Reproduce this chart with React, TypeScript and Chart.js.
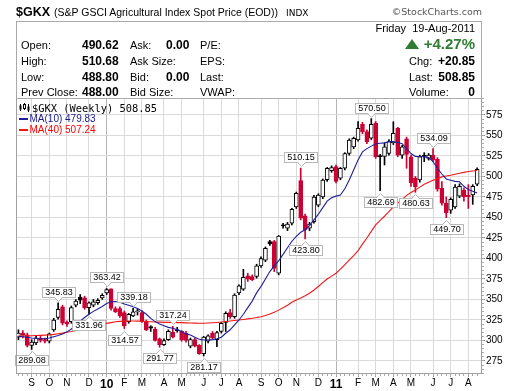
import React, { useEffect, useRef } from 'react';
import { Chart, registerables } from 'chart.js';

Chart.register(...registerables);

// ---------- data ----------
const FIRST_MONDAY = '2009-08-17';
const MONTH_LETTERS = ['J', 'F', 'M', 'A', 'M', 'J', 'J', 'A', 'S', 'O', 'N', 'D'];

const opens = [
  304, 309, 307, 294, 297, 303, 301, 299, 313, 328,
  341, 322, 323, 343, 353, 352, 340, 343, 346, 352,
  358, 363, 339, 339, 334, 323, 330, 335, 334, 323,
  317, 314, 302, 295, 301, 310, 313, 311, 309, 293,
  301, 294, 284, 299, 309, 301, 311, 322, 334, 329,
  358, 362.5, 378.7, 378, 378, 391, 398, 420.5, 420.5, 382,
  441, 437, 443, 463, 495, 452, 437, 445, 465, 475,
  496, 507, 512, 498, 510, 528, 536, 544.5, 563.6, 554.7,
  546.6, 565, 524.5, 524.5, 528, 541, 558.8, 526, 546, 524,
  498, 495.7, 525, 522, 526, 521, 485.6, 467.3, 459, 463,
  476, 483.5, 477, 477.4, 490.62,
];
const highs = [
  313, 312, 309, 301, 306, 305, 303, 309, 327, 345.83,
  343, 324, 342, 350, 356, 354, 347, 350, 351, 357,
  363.42, 363, 341, 341, 336, 333, 339.18, 338, 336, 325,
  318, 316, 303, 302, 313, 317.24, 316, 312, 311, 303,
  303, 295, 305, 307, 311, 311, 322, 335, 338, 357,
  368, 386.8, 382, 380, 393, 402, 414, 422, 422, 428,
  443, 444, 461, 481, 510.15, 454, 444, 477, 479, 497,
  511, 513, 514, 511, 529, 546, 548, 566.8, 566, 557,
  570.5, 567, 527, 541, 545, 566.8, 560, 538, 548, 526,
  500, 526, 529, 528, 534.09, 523, 493.7, 475, 474, 490,
  491, 486, 490, 490, 510.68,
];
const lows = [
  301, 303, 292, 289.08, 295, 298, 297, 297, 311, 326,
  319, 317, 321, 341, 345, 338, 331.96, 341, 344, 350,
  356, 337, 334, 328, 314.57, 321, 329, 331, 322, 312,
  311, 299, 291.77, 294, 300, 303, 310, 299, 298, 291,
  292, 283, 281.17, 297, 302, 292.5, 309, 311, 327, 327,
  356, 361, 372, 373, 376, 389, 396, 416, 384, 380,
  437, 434, 441, 461, 447, 423.8, 434, 443, 463, 473,
  494, 505, 492, 496, 508, 526, 534, 543, 552, 540,
  545, 522, 482.69, 514, 526, 539, 524, 522, 510, 488,
  480.63, 493, 518, 520, 518, 482, 465, 449.7, 455, 461,
  474, 470, 461, 466, 488.8,
];
const closes = [
  309, 307, 294, 298, 303, 300, 299, 308, 325, 338,
  321, 320, 340, 348, 349, 340, 346, 347, 349, 355,
  362, 339, 335, 330, 318, 332, 335, 335.5, 323, 313,
  315, 300, 295, 300, 311, 304, 312, 301, 300, 301,
  293, 284, 304, 305.5, 303, 309.5, 321, 333, 329, 355.5,
  366.5, 377, 374.6, 374, 391, 400, 412.4, 417.7, 388, 427.4,
  439.6, 442, 460, 479.5, 449, 435, 442, 475, 477.4, 495.7,
  510, 510.7, 494, 510, 528, 544.5, 546.6, 558.7, 554.7, 542.5,
  563.6, 524, 524.2, 536, 542.5, 552.7, 526, 536, 527, 492,
  487.6, 524.2, 524.5, 526, 520, 484.4, 467.3, 456, 472, 487,
  488, 475.4, 475, 488, 508.85,
];
const ma10 = [
  305, 304.5, 304, 303, 302.5, 302, 302, 303, 304.5, 306,
  308, 310.5, 314, 318.5, 323.5, 328, 332, 335.5, 338.5, 341.5,
  345, 347.3, 347.5, 346.5, 344.5, 343, 341, 339, 336, 332,
  327, 323, 320, 318, 316, 315, 313, 311, 308, 306.7,
  304, 301.5, 300.6, 300.5, 301, 302, 304, 308.8, 313, 319,
  325, 332, 340, 348, 358, 366, 375, 384, 391, 397,
  405, 413, 421, 427, 432, 435, 440, 447, 454, 462,
  470, 474, 476, 477.4, 485, 495.7, 508, 520, 530, 534,
  537, 540, 540.5, 541, 542.5, 542.5, 541.5, 540, 534, 528,
  524.5, 524, 524, 523, 518, 510, 503, 497, 495.5, 494,
  493.5, 488, 484, 482, 479.83,
];
const ma40 = [
  305.5, 305.6, 305.7, 305.8, 306, 306.2, 306.5, 306.7, 307.4, 308.2,
  309, 310, 311, 312.2, 313.3, 314.5, 315.8, 317.2, 318.6, 319.8,
  320.8, 321.8, 322.8, 323.3, 323.6, 323.8, 323.8, 323.6, 323.4, 323.1,
  322.9, 322.6, 322.4, 322.1, 322, 321.9, 321.8, 321.7, 321.5, 321.3,
  321.1, 321, 321, 321.3, 321.6, 322, 322.5, 323.1, 323.8, 324.4,
  325, 325.6, 326.3, 327, 328, 329, 330.5, 332.3, 334.5, 337,
  340, 343, 346.5, 349.3, 351.8, 354.5, 357.5, 361.5, 365.8, 370.5,
  375, 378.5, 382, 387, 392.5, 398, 403.5, 409.5, 417.5, 425,
  433, 441, 446.5, 451.5, 457, 463, 467.5, 472, 477, 480.5,
  483.5, 487, 490.5, 493, 495.3, 497.3, 499.5, 500.5, 501.5, 502.7,
  504, 505, 506, 506.7, 507.24,
];
const yTicks = [275, 300, 325, 350, 375, 400, 425, 450, 475, 500, 525, 550, 575];
const swingWeeks = [3, 9, 16, 20, 24, 26, 32, 35, 42, 64, 65, 80, 82, 90, 94, 97];
const swingPrices = [289.08, 345.83, 331.96, 363.42, 314.57, 339.18, 291.77, 317.24, 281.17, 510.15, 423.8, 570.5, 482.69, 480.63, 534.09, 449.7];
const swingSides = ['low', 'high', 'low', 'high', 'low', 'high', 'low', 'high', 'low', 'high', 'low', 'high', 'low', 'low', 'high', 'low'];

// ---------- derived ----------
const DAY = 86400000;
const t0 = Date.parse(FIRST_MONDAY + 'T00:00:00Z');
const weekDates = opens.map((_, i) => new Date(t0 + i * 7 * DAY));
const monthTicks: { week: number; label: string; year: boolean }[] = [];
weekDates.forEach((d, i) => {
  if (i > 0 && d.getUTCMonth() !== weekDates[i - 1].getUTCMonth()) {
    const m = d.getUTCMonth();
    monthTicks.push({ week: i, label: m === 0 ? String(d.getUTCFullYear()).slice(2) : MONTH_LETTERS[m], year: m === 0 });
  }
});

const RED = '#cc0033';
const BLACK = '#000000';
const MA10_COLOR = '#1f1f9a';
const MA40_COLOR = '#f01818';
const ARIAL = '"Liberation Sans", Arial, sans-serif';
const DEJAVU = '"DejaVu Sans", Verdana, sans-serif';

const candleColor = closes.map((c, i) => (i === 0 || c >= closes[i - 1] ? BLACK : RED));
const candleFill = closes.map((c, i) => (c < opens[i] ? candleColor[i] : '#ffffff'));

const framePlugin = {
  id: 'frame',
  afterDraw(chart: any) {
    const { ctx, chartArea: a } = chart;
    ctx.save();
    ctx.strokeStyle = '#a0a0a0';
    ctx.lineWidth = 1;
    ctx.strokeRect(a.left + 0.5, a.top + 0.5, a.right - a.left - 1, a.bottom - a.top - 1);
    ctx.restore();
  },
};

const swingPlugin = {
  id: 'swings',
  afterDatasetsDraw(chart: any) {
    const { ctx } = chart;
    const x = chart.scales.x;
    const y = chart.scales.y;
    ctx.save();
    ctx.font = `9px ${ARIAL}`;
    swingWeeks.forEach((w, k) => {
      const px = x.getPixelForValue(w);
      const py = y.getPixelForValue(swingPrices[k]);
      const text = swingPrices[k].toFixed(2);
      const tw = ctx.measureText(text).width;
      const bw = Math.round(tw + 5);
      const bh = 10;
      const high = swingSides[k] === 'high';
      const bx = Math.round(px - bw / 2) + 0.5;
      const by = high ? Math.round(py - 6 - bh) + 0.5 : Math.round(py + 6) + 0.5;
      ctx.fillStyle = '#ffffff';
      ctx.strokeStyle = '#b8b8b8';
      ctx.lineWidth = 1;
      ctx.fillRect(bx, by, bw, bh);
      ctx.strokeRect(bx, by, bw, bh);
      const cx = Math.round(px) + 0.5;
      const edge = high ? by + bh : by;
      const dir = high ? 1 : -1;
      const tip = edge + dir * 4;
      ctx.beginPath();
      ctx.moveTo(cx - 4, edge - dir);
      ctx.lineTo(cx, tip);
      ctx.lineTo(cx + 4, edge - dir);
      ctx.closePath();
      ctx.fill();
      ctx.beginPath();
      ctx.moveTo(cx - 4, edge);
      ctx.lineTo(cx, tip);
      ctx.lineTo(cx + 4, edge);
      ctx.stroke();
      ctx.fillStyle = '#000';
      ctx.textAlign = 'center';
      ctx.textBaseline = 'middle';
      ctx.fillText(text, bx + bw / 2, by + bh / 2 + 0.5);
    });
    ctx.restore();
  },
};

type TxtProps = { x: number; cy: number; size: number; bold?: boolean; color?: string; right?: boolean; font?: string; children: React.ReactNode };
function Txt({ x, cy, size, bold, color, right, font, children }: TxtProps) {
  const h = Math.round(size * 1.3);
  const style: React.CSSProperties = {
    position: 'absolute',
    top: cy - h / 2,
    height: h,
    lineHeight: h + 'px',
    fontSize: size,
    fontFamily: font || ARIAL,
    fontWeight: bold ? 'bold' : 'normal',
    color: color || '#000',
    whiteSpace: 'pre',
  };
  if (right) style.right = 520 - x;
  else style.left = x;
  return <div style={style}>{children}</div>;
}

export default function App() {
  const ref = useRef<HTMLCanvasElement | null>(null);

  useEffect(() => {
    if (!ref.current) return;
    const xMin = -0.55;
    const xMax = 105.1;
    const yMin = 259.1;
    const yMax = 595.7;
    const chart = new Chart(ref.current, {
      type: 'bar',
      data: {
        datasets: [
          {
            type: 'line',
            label: 'MA(10)',
            data: ma10.map((v, i) => ({ x: i, y: v })),
            borderColor: MA10_COLOR,
            borderWidth: 1.1,
            pointRadius: 0,
            tension: 0,
            order: 0,
          } as any,
          {
            type: 'line',
            label: 'MA(40)',
            data: ma40.map((v, i) => ({ x: i, y: v })),
            borderColor: MA40_COLOR,
            borderWidth: 1.1,
            pointRadius: 0,
            tension: 0,
            order: 1,
          } as any,
          {
            type: 'bar',
            label: 'body',
            data: opens.map((o, i) => ({ x: i, y: [o, closes[i]] })),
            backgroundColor: candleFill,
            borderColor: candleColor,
            borderWidth: 1,
            borderSkipped: false,
            barThickness: 4,
            minBarLength: 1,
            grouped: false,
            order: 2,
          } as any,
          {
            type: 'bar',
            label: 'wick',
            data: lows.map((l, i) => ({ x: i, y: [l, highs[i]] })),
            backgroundColor: candleColor,
            borderWidth: 0,
            barThickness: 1,
            grouped: false,
            order: 3,
          } as any,
        ],
      },
      options: {
        animation: false,
        responsive: false,
        maintainAspectRatio: false,
        layout: { padding: { left: 16, top: 98, right: 0, bottom: 0 } },
        plugins: { legend: { display: false }, tooltip: { enabled: false } },
        events: [],
        scales: {
          x: {
            type: 'linear',
            position: 'bottom',
            weight: 1,
            min: xMin,
            max: xMax,
            offset: false,
            afterBuildTicks: (s: any) => {
              s.ticks = monthTicks.map((t) => ({ value: t.week }));
            },
            afterFit: (s: any) => {
              s.height = 17;
            },
            ticks: {
              autoSkip: false,
              maxRotation: 0,
              minRotation: 0,
              padding: 0,
              color: '#000',
              font: (ctx: any) => {
                const t = monthTicks.find((m) => m.week === ctx.tick?.value);
                return t && t.year
                  ? { family: ARIAL, size: 12, weight: 'bold' }
                  : { family: ARIAL, size: 10, weight: 'normal' };
              },
              callback: (v: any) => {
                const t = monthTicks.find((m) => m.week === v);
                return t ? t.label : '';
              },
            },
            grid: {
              offset: false,
              color: (ctx: any) => {
                const t = monthTicks.find((m) => m.week === ctx.tick?.value);
                return t && t.year ? '#b4b4b4' : '#dadada';
              },
              tickColor: '#999',
              tickLength: 3,
            },
            border: { display: false },
          } as any,
          xMinor: {
            type: 'linear',
            position: 'bottom',
            weight: 0,
            min: xMin,
            max: xMax,
            offset: false,
            afterBuildTicks: (s: any) => {
              s.ticks = opens.map((_, i) => ({ value: i }));
            },
            afterFit: (s: any) => {
              s.height = 0;
            },
            ticks: { display: false },
            grid: { offset: false, drawOnChartArea: false, tickLength: 2, tickColor: '#aaa' },
            border: { display: false },
          } as any,
          y: {
            type: 'linear',
            position: 'right',
            weight: 1,
            min: yMin,
            max: yMax,
            afterBuildTicks: (s: any) => {
              s.ticks = yTicks.map((v) => ({ value: v }));
            },
            afterFit: (s: any) => {
              s.width = 38;
            },
            ticks: {
              padding: 1,
              color: '#000',
              font: { family: ARIAL, size: 10 },
              callback: (v: any) => String(v),
            },
            grid: { color: '#dadada', tickColor: '#888', tickLength: 3 },
            border: { display: false },
          } as any,
          yMinor: {
            type: 'linear',
            position: 'right',
            weight: 0,
            min: yMin,
            max: yMax,
            afterBuildTicks: (s: any) => {
              const arr: any[] = [];
              for (let v = 260; v <= 595; v += 5) arr.push({ value: v });
              s.ticks = arr;
            },
            afterFit: (s: any) => {
              s.width = 0;
            },
            ticks: { display: false },
            grid: { drawOnChartArea: false, tickLength: 2, tickColor: '#aaa' },
            border: { display: false },
          } as any,
        },
      } as any,
      plugins: [swingPlugin, framePlugin],
    });
    return () => chart.destroy();
  }, []);

  return (
    <div style={{ position: 'absolute', left: 0, top: 0, width: 520, height: 391, background: '#fff', overflow: 'hidden' }}>
      <canvas ref={ref} width={520} height={391} style={{ position: 'absolute', left: 0, top: 0, width: 520, height: 391 }} />
      {/* title row */}
      <Txt x={16} cy={11.5} size={12.5} bold>$GKX</Txt>
      <Txt x={54} cy={12} size={10.5}>(S&amp;P GSCI Agricultural Index Spot Price (EOD))</Txt>
      <Txt x={286} cy={12.5} size={9} font={DEJAVU}>INDX</Txt>
      <Txt x={482} cy={12} size={9.5} right color="#555" font={DEJAVU}>©StockCharts.com</Txt>
      {/* info box */}
      <div style={{ position: 'absolute', left: 16, top: 21, width: 466, height: 78, border: '1px solid #aaaaaa', boxSizing: 'border-box' }} />
      <Txt x={475} cy={28} size={11} right>{'Friday  19-Aug-2011'}</Txt>

      <Txt x={21} cy={44.5} size={11}>Open:</Txt>
      <Txt x={82} cy={44.5} size={12} bold>490.62</Txt>
      <Txt x={130} cy={44.5} size={11}>Ask:</Txt>
      <Txt x={166} cy={44.5} size={12} bold>0.00</Txt>
      <Txt x={200} cy={44.5} size={11}>P/E:</Txt>
      <div style={{ position: 'absolute', left: 405, top: 39, width: 0, height: 0, borderLeft: '7.5px solid transparent', borderRight: '7.5px solid transparent', borderBottom: '10px solid #2f7d32' }} />
      <Txt x={475} cy={43.7} size={15} bold right color="#2f7d32">+4.27%</Txt>

      <Txt x={21} cy={60.5} size={11}>High:</Txt>
      <Txt x={82} cy={60.5} size={12} bold>510.68</Txt>
      <Txt x={130} cy={60.5} size={11}>Ask Size:</Txt>
      <Txt x={200} cy={60.5} size={11}>EPS:</Txt>
      <Txt x={409} cy={60.5} size={11}>Chg:</Txt>
      <Txt x={475} cy={60.5} size={12} bold right>+20.85</Txt>

      <Txt x={21} cy={76.5} size={11}>Low:</Txt>
      <Txt x={82} cy={76.5} size={12} bold>488.80</Txt>
      <Txt x={130} cy={76.5} size={11}>Bid:</Txt>
      <Txt x={166} cy={76.5} size={12} bold>0.00</Txt>
      <Txt x={200} cy={76.5} size={11}>Last:</Txt>
      <Txt x={409} cy={76.5} size={11}>Last:</Txt>
      <Txt x={475} cy={76.5} size={12} bold right>508.85</Txt>

      <Txt x={21} cy={92} size={11}>Prev Close:</Txt>
      <Txt x={82} cy={92} size={12} bold>488.00</Txt>
      <Txt x={130} cy={92} size={11}>Bid Size:</Txt>
      <Txt x={200} cy={92} size={11}>VWAP:</Txt>
      <Txt x={409} cy={92} size={11}>Volume:</Txt>
      <Txt x={475} cy={92} size={12} bold right>0</Txt>

      {/* in-plot legend */}
      <svg style={{ position: 'absolute', left: 19, top: 103 }} width={12} height={9}>
        <line x1={1.5} y1={1} x2={1.5} y2={8} stroke="#000" />
        <rect x={0.5} y={2.5} width={2} height={4} fill="#000" />
        <line x1={5.5} y1={0} x2={5.5} y2={7} stroke="#000" />
        <rect x={4.5} y={1.5} width={2} height={4} fill="#fff" stroke="#000" />
        <line x1={9.5} y1={1} x2={9.5} y2={9} stroke="#000" />
        <rect x={8.5} y={3.5} width={2} height={4} fill="#000" />
      </svg>
      <Txt x={32} cy={107.5} size={10.4} font='"DejaVu Sans Mono", monospace'>$GKX (Weekly) 508.85</Txt>
      <div style={{ position: 'absolute', left: 19, top: 118, width: 9, height: 2, background: MA10_COLOR }} />
      <Txt x={29.5} cy={118.8} size={10} color="#1a1a8a">MA(10) 479.83</Txt>
      <div style={{ position: 'absolute', left: 19, top: 128.5, width: 9, height: 2, background: MA40_COLOR }} />
      <Txt x={29.5} cy={129.5} size={10} color="#ff0000">MA(40) 507.24</Txt>
    </div>
  );
}
